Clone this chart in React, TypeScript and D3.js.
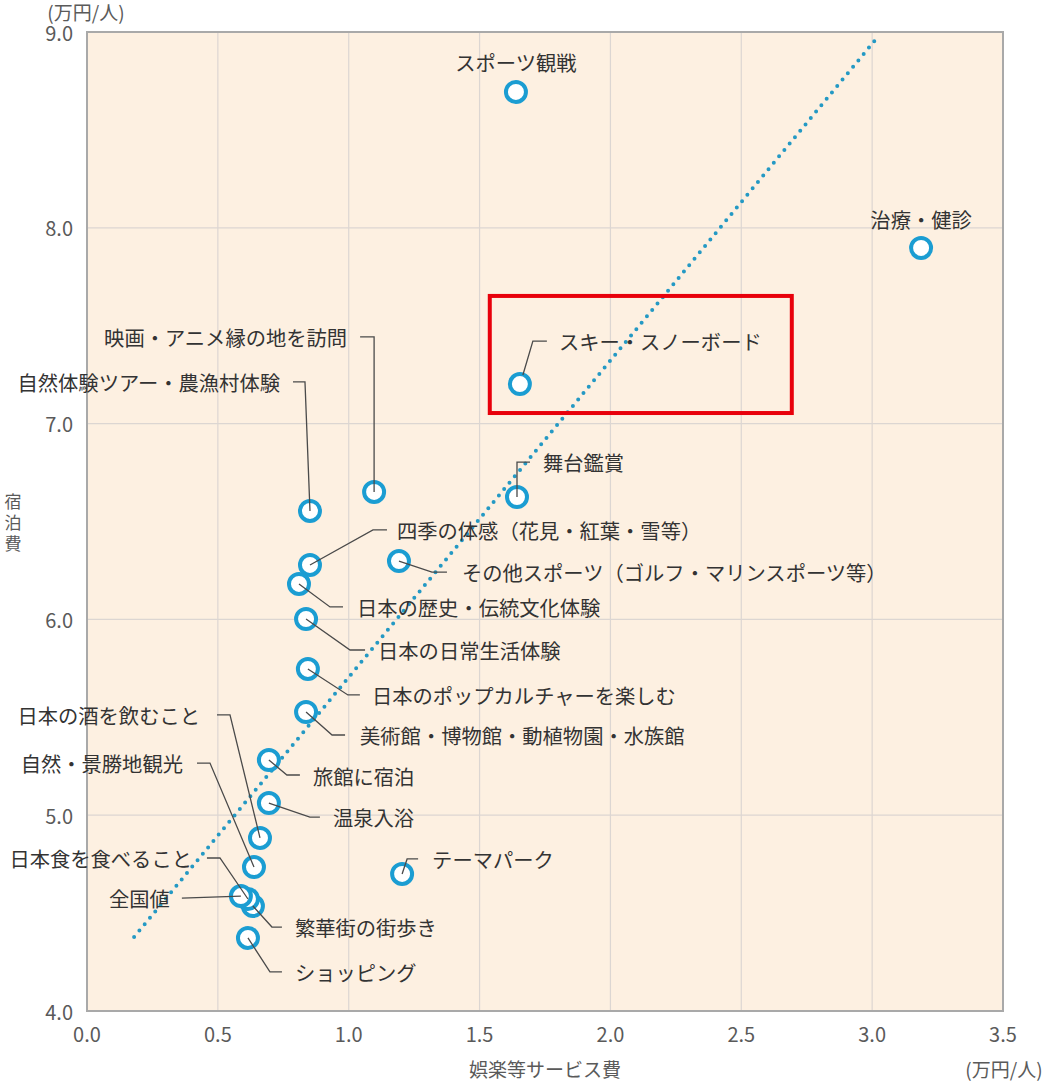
import React from "react";
import * as d3 from "d3";

const categories = [
  "スポーツ観戦",
  "治療・健診",
  "スキー・スノーボード",
  "舞台鑑賞",
  "映画・アニメ縁の地を訪問",
  "自然体験ツアー・農漁村体験",
  "四季の体感（花見・紅葉・雪等）",
  "その他スポーツ（ゴルフ・マリンスポーツ等）",
  "日本の歴史・伝統文化体験",
  "日本の日常生活体験",
  "日本のポップカルチャーを楽しむ",
  "美術館・博物館・動植物園・水族館",
  "旅館に宿泊",
  "温泉入浴",
  "テーマパーク",
  "繁華街の街歩き",
  "ショッピング",
  "日本の酒を飲むこと",
  "自然・景勝地観光",
  "日本食を食べること",
  "全国値",
];

// 娯楽等サービス費 (万円/人)
const entertainmentCost = [
  1.639, 3.187, 1.654, 1.643, 1.097, 0.852, 0.852, 1.192, 0.81, 0.837, 0.844,
  0.837, 0.695, 0.695, 1.204, 0.634, 0.615, 0.661, 0.638, 0.615, 0.588,
];
// 宿泊費 (万円/人)
const lodgingCost = [
  8.694, 7.897, 7.202, 6.625, 6.651, 6.554, 6.278, 6.298, 6.181, 6.002, 5.747,
  5.527, 5.282, 5.062, 4.7, 4.536, 4.373, 4.884, 4.735, 4.572, 4.587,
];

const xTicks = [0, 0.5, 1.0, 1.5, 2.0, 2.5, 3.0, 3.5];
const yTicks = [4, 5, 6, 7, 8, 9];
const trendX = [0.18, 3.021];
const trendY = [4.378, 8.974];
const highlightX = [1.539, 2.693];
const highlightY = [7.054, 7.652];

// label layout: offset of text from point (px), anchor, leader polyline offsets
type LL = { dx: number; dy: number; anchor: string; leader: number[][] };
const labelLayout: LL[] = [
  { dx: 0, dy: -30, anchor: "middle", leader: [] },
  { dx: 0, dy: -29, anchor: "middle", leader: [] },
  { dx: 39, dy: -43, anchor: "start", leader: [[3, -9], [13, -43], [27, -43]] },
  { dx: 26, dy: -35, anchor: "start", leader: [[0, 0], [0, -35], [13, -35]] },
  { dx: -27, dy: -155, anchor: "end", leader: [[0, 0], [0, -155], [-14, -155]] },
  { dx: -30, dy: -129, anchor: "end", leader: [[0, 0], [-5, -129], [-17, -129]] },
  { dx: 87, dy: -35, anchor: "start", leader: [[0, 0], [63, -35], [77, -35]] },
  { dx: 63, dy: 11, anchor: "start", leader: [[0, 0], [33, 11], [48, 11]] },
  { dx: 58, dy: 23, anchor: "start", leader: [[0, 0], [31, 23], [44, 23]] },
  { dx: 72, dy: 31, anchor: "start", leader: [[0, 0], [44, 31], [59, 31]] },
  { dx: 64, dy: 26, anchor: "start", leader: [[0, 0], [40, 26], [52, 26]] },
  { dx: 54, dy: 23, anchor: "start", leader: [[0, 0], [26, 23], [39, 23]] },
  { dx: 44, dy: 16, anchor: "start", leader: [[0, 0], [18, 15], [31, 15]] },
  { dx: 64, dy: 14, anchor: "start", leader: [[0, 0], [41, 14], [51, 14]] },
  { dx: 30, dy: -15, anchor: "start", leader: [[0, 0], [5, -15], [16, -15]] },
  { dx: 42, dy: 21, anchor: "start", leader: [[0, 0], [19, 21], [29, 21]] },
  { dx: 47, dy: 34, anchor: "start", leader: [[0, 0], [22, 34], [34, 34]] },
  { dx: -60, dy: -123, anchor: "end", leader: [[0, 0], [-30, -123], [-43, -123]] },
  { dx: -71, dy: -104, anchor: "end", leader: [[0, 0], [-44, -104], [-57, -104]] },
  { dx: -56, dy: -41, anchor: "end", leader: [[0, 0], [-28, -41], [-41, -41]] },
  { dx: -71, dy: 2, anchor: "end", leader: [[0, 0], [-59, 2]] },
];

const W = 1052;
const H = 1081;
const M = { left: 87, top: 32, right: 1003, bottom: 1011 };
const FONT = "'Noto Sans CJK JP', 'Noto Sans', sans-serif";

export default function App() {
  const x = d3.scaleLinear().domain([0, 3.5]).range([M.left, M.right]);
  const y = d3.scaleLinear().domain([4, 9]).range([M.bottom, M.top]);
  const line = d3.line<number[]>();
  const trendPath = d3
    .line<number>()
    .x((_, i) => x(trendX[i]))
    .y((_, i) => y(trendY[i]))(trendX) as string;

  const pts = categories.map((c, i) => ({
    name: c,
    px: x(entertainmentCost[i]),
    py: y(lodgingCost[i]),
    lay: labelLayout[i],
  }));

  return (
    <svg
      width={W}
      height={H}
      style={{ position: "absolute", left: 0, top: 0, background: "#fff" }}
      fontFamily={FONT}
    >
      <rect
        x={M.left}
        y={M.top}
        width={M.right - M.left}
        height={M.bottom - M.top}
        fill="#fdf0e1"
      />
      {xTicks.slice(1, -1).map((t) => (
        <line key={"gx" + t} x1={x(t)} x2={x(t)} y1={M.top} y2={M.bottom} stroke="#dcd6d2" strokeWidth={1.2} />
      ))}
      {yTicks.slice(1, -1).map((t) => (
        <line key={"gy" + t} x1={M.left} x2={M.right} y1={y(t)} y2={y(t)} stroke="#dcd6d2" strokeWidth={1.2} />
      ))}
      <rect
        x={M.left}
        y={M.top}
        width={M.right - M.left}
        height={M.bottom - M.top}
        fill="none"
        stroke="#a9a9a9"
        strokeWidth={2}
      />
      {xTicks.map((t) => (
        <text key={"tx" + t} x={x(t)} y={1033} textAnchor="middle" dominantBaseline="central" fontSize={20} fill="#5a5a5a">
          {d3.format(".1f")(t)}
        </text>
      ))}
      {yTicks.map((t) => (
        <text key={"ty" + t} x={73} y={y(t)} textAnchor="end" dominantBaseline="central" fontSize={20} fill="#5a5a5a">
          {d3.format(".1f")(t)}
        </text>
      ))}
      <text x={86} y={11} textAnchor="middle" dominantBaseline="central" fontSize={19} fill="#5a5a5a">
        (万円/人)
      </text>
      <text x={1004} y={1068} textAnchor="middle" dominantBaseline="central" fontSize={19} fill="#5a5a5a">
        (万円/人)
      </text>
      <text x={545} y={1068} textAnchor="middle" dominantBaseline="central" fontSize={19} fill="#5a5a5a">
        娯楽等サービス費
      </text>
      {["宿", "泊", "費"].map((c, i) => (
        <text key={c} x={13} y={500 + i * 21} textAnchor="middle" dominantBaseline="central" fontSize={17} fill="#5a5a5a">
          {c}
        </text>
      ))}

      <path
        d={trendPath}
        fill="none"
        stroke="#2499c4"
        strokeWidth={4}
        strokeLinecap="round"
        strokeDasharray="0 8.3"
      />

      {pts.map((p) => (
        <circle key={"c" + p.name} cx={p.px} cy={p.py} r={10} fill="#fff" stroke="#1b9dd2" strokeWidth={4} />
      ))}

      {pts.map((p) =>
        p.lay.leader.length ? (
          <path
            key={"l" + p.name}
            d={line(p.lay.leader.map(([a, b]) => [p.px + a, p.py + b] as [number, number])) as string}
            fill="none"
            stroke="#4a4a4a"
            strokeWidth={1.3}
          />
        ) : null
      )}
      {pts.map((p) => (
        <text
          key={"t" + p.name}
          x={p.px + p.lay.dx}
          y={p.py + p.lay.dy}
          textAnchor={p.lay.anchor}
          dominantBaseline="central"
          fontSize={20.3}
          fill="#333"
        >
          {p.name}
        </text>
      ))}

      <rect
        x={x(highlightX[0])}
        y={y(highlightY[1])}
        width={x(highlightX[1]) - x(highlightX[0])}
        height={y(highlightY[0]) - y(highlightY[1])}
        fill="none"
        stroke="#e8000b"
        strokeWidth={4}
      />
    </svg>
  );
}
